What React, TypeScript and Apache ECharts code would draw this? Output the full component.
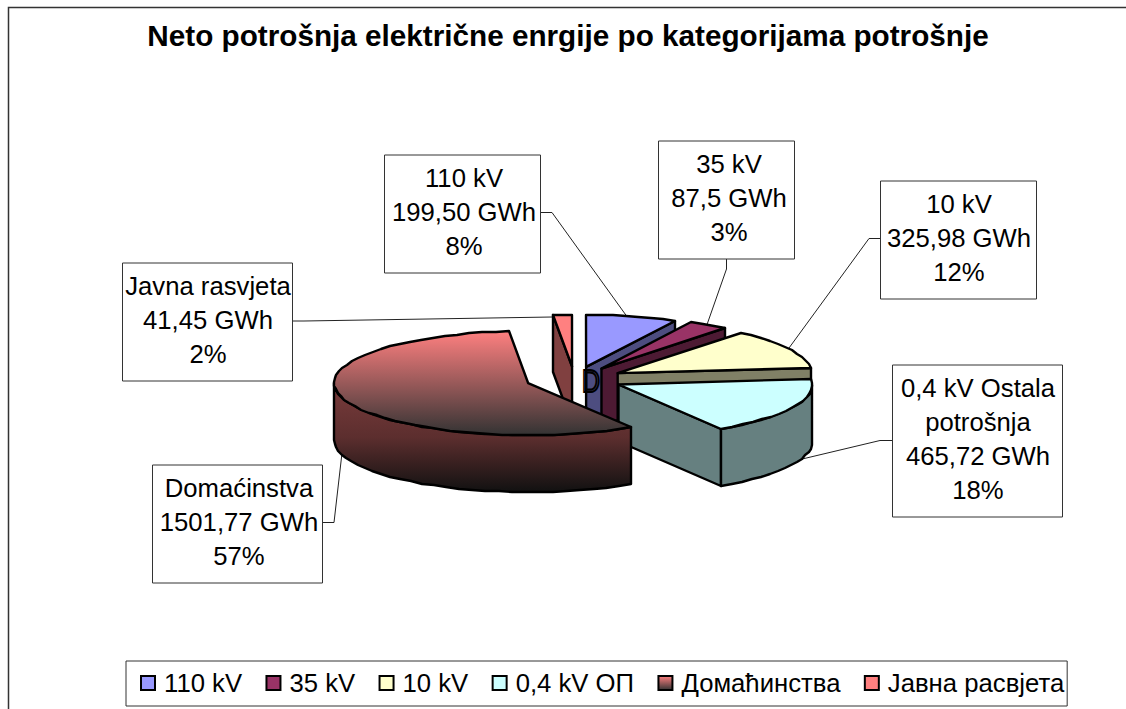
import React, { useEffect, useRef } from "react";
import * as echarts from "echarts";

const FONT = '"Liberation Sans", Arial, sans-serif';

const titleText = "Neto potrošnja električne enrgije po kategorijama potrošnje";
const legendNames = ["110 kV", "35 kV", "10 kV", "0,4 kV ОП", "Домаћинства", "Јавна расвјета"];
const sliceValues = [199.5, 87.5, 325.98, 465.72, 1501.77, 41.45];
const labelNames = ["110 kV", "35 kV", "10 kV", "0,4 kV Ostala\npotrošnja", "Domaćinstva", "Javna rasvjeta"];
const labelValues = ["199,50 GWh", "87,5 GWh", "325,98 GWh", "465,72 GWh", "1501,77 GWh", "41,45 GWh"];
const labelPercents = ["8%", "3%", "12%", "18%", "57%", "2%"];

// Styling and layout, kept apart from the data
const gradient = (stops: [number, string][]) =>
  new echarts.graphic.LinearGradient(0, 0, 0, 1, stops.map(([offset, color]) => ({ offset, color })));
const topFills: any[] = [
  "#9999ff",
  "#993366",
  "#ffffcc",
  "#ccffff",
  gradient([[0, "#ff8080"], [1, "#333333"]]),
  "#ff8080",
];
const wallFills: any[] = [
  "#4d4d80",
  "#4d1a33",
  "#808066",
  "#668080",
  gradient([[0, "#7a3c3c"], [0.5, "#5c2e2e"], [1, "#111111"]]),
  "#804040",
];
const pie = { cx: 574.5, cy: 379, a: 194, b: 52, depth: 57, explodeA: 49, explodeB: 12.5 };
const boxes = [
  { x: 384.5, y: 155, w: 156, h: 118, cx: 464, line: [[540, 212.5], [552, 212.5], [628, 318]] },
  { x: 658.5, y: 141, w: 136, h: 118, cx: 729, line: [[726.5, 259], [726.5, 269], [706.5, 326]] },
  { x: 880.5, y: 181, w: 156, h: 118, cx: 959, line: [[880, 238.5], [869, 238.5], [789, 348]] },
  { x: 892.5, y: 365, w: 170, h: 152, cx: 978, line: [[892, 440.5], [880, 440.5], [798, 460]] },
  { x: 152.5, y: 465, w: 170, h: 118, cx: 239, line: [[322, 522.5], [334, 522.5], [342, 453]] },
  { x: 122.5, y: 263, w: 170, h: 118, cx: 208, line: [[292, 321], [304, 321], [552, 317]] },
];

const total = sliceValues.reduce((s, v) => s + v, 0);
const startOf = (i: number) =>
  (sliceValues.slice(0, i).reduce((s, v) => s + v, 0) / total) * Math.PI * 2;

function arc(cx: number, cy: number, from: number, to: number, dy = 0) {
  const pts: number[][] = [];
  const n = Math.max(1, Math.round((to - from) / (Math.PI / 45)));
  for (let k = 0; k <= n; k++) {
    const t = from + ((to - from) * k) / n;
    pts.push([Math.round(cx + pie.a * Math.sin(t)), Math.round(cy - pie.b * Math.cos(t) + dy)]);
  }
  return pts;
}

function renderSlice(i: number) {
  return () => {
    const ts = startOf(i);
    const te = startOf(i + 1);
    const tm = (ts + te) / 2;
    const cx = pie.cx + pie.explodeA * Math.sin(tm);
    const cy = pie.cy - pie.explodeB * Math.cos(tm);
    const stroke = { stroke: "#000", lineWidth: 2.4, lineJoin: "round" };
    const poly = (points: number[][], fill: any) => ({
      type: "polygon",
      shape: { points },
      style: { fill, ...stroke },
    });
    const children: any[] = [];
    const radialWall = (t: number) => {
      const [r] = arc(cx, cy, t, t);
      return poly(
        [[cx, cy], r, [r[0], r[1] + pie.depth], [cx, cy + pie.depth]],
        wallFills[i]
      );
    };
    if (Math.sin(ts) < -1e-6) children.push(radialWall(ts));
    if (Math.sin(te) > 1e-6) children.push(radialWall(te));
    const wFrom = Math.max(ts, Math.PI / 2);
    const wTo = Math.min(te, (Math.PI * 3) / 2);
    if (wTo > wFrom) {
      children.push(
        poly(
          [...arc(cx, cy, wFrom, wTo), ...arc(cx, cy, wFrom, wTo, pie.depth).reverse()],
          wallFills[i]
        )
      );
    }
    children.push(poly([[cx, cy], ...arc(cx, cy, ts, te)], topFills[i]));
    return { type: "group", children };
  };
}

export default function App() {
  const ref = useRef<HTMLDivElement>(null);
  useEffect(() => {
    const chart = echarts.init(ref.current!, undefined, { renderer: "svg" });
    const graphics: any[] = [
      {
        type: "polyline",
        z: 1,
        shape: { points: [[8.5, 720], [8.5, 7.5], [1130, 7.5]] },
        style: { fill: "none", stroke: "#333", lineWidth: 1.5 },
      },
    ];
    boxes.forEach((b, i) => {
      graphics.push({
        type: "polyline",
        z: 1,
        shape: { points: b.line },
        style: { fill: "none", stroke: "#222", lineWidth: 1 },
      });
      graphics.push({
        type: "rect",
        z: 4,
        shape: { x: b.x, y: b.y, width: b.w, height: b.h },
        style: { fill: "#fff", stroke: "#333", lineWidth: 1 },
      });
      graphics.push({
        type: "text",
        z: 5,
        x: b.cx,
        y: b.y + 5.5,
        style: {
          text: [labelNames[i], labelValues[i], labelPercents[i]].join("\n"),
          fill: "#000",
          fontFamily: FONT,
          fontSize: 25.7,
          lineHeight: 34,
          align: "center",
          verticalAlign: "top",
        },
      });
    });
    graphics.push({
      type: "text",
      z: 5,
      x: 582,
      y: 366,
      scaleX: 0.8,
      style: { text: "D", fill: "none", stroke: "#000", lineWidth: 2.2, fontFamily: FONT, fontSize: 31 },
    });
    chart.setOption({
      animation: false,
      title: {
        text: titleText,
        left: 563,
        top: 15,
        textAlign: "center",
        textStyle: { fontFamily: FONT, fontSize: 29.7, fontWeight: "bold", color: "#000" },
      },
      legend: {
        left: 126,
        top: 661,
        data: legendNames,
        icon: "rect",
        itemWidth: 14,
        itemHeight: 14,
        itemGap: 23.4,
        padding: [9, 3, 10, 14],
        backgroundColor: "#fff",
        borderColor: "#333",
        borderWidth: 1,
        selectedMode: false,
        itemStyle: { borderColor: "#000", borderWidth: 2 },
        textStyle: { fontFamily: FONT, fontSize: 25.7, color: "#000", padding: [0, 0, 0, 4] },
      },
      graphic: { elements: graphics },
      series: legendNames.map((name, i) => ({
        type: "custom",
        name,
        coordinateSystem: "none",
        z: i === 5 ? 2 : 3,
        silent: true,
        itemStyle: { color: topFills[i] },
        data: [[sliceValues[i]]],
        renderItem: renderSlice(i),
      })),
    });
    return () => chart.dispose();
  }, []);
  return (
    <div
      ref={ref}
      style={{ position: "fixed", left: 0, top: 0, width: 1126, height: 709, background: "#fff" }}
    />
  );
}
